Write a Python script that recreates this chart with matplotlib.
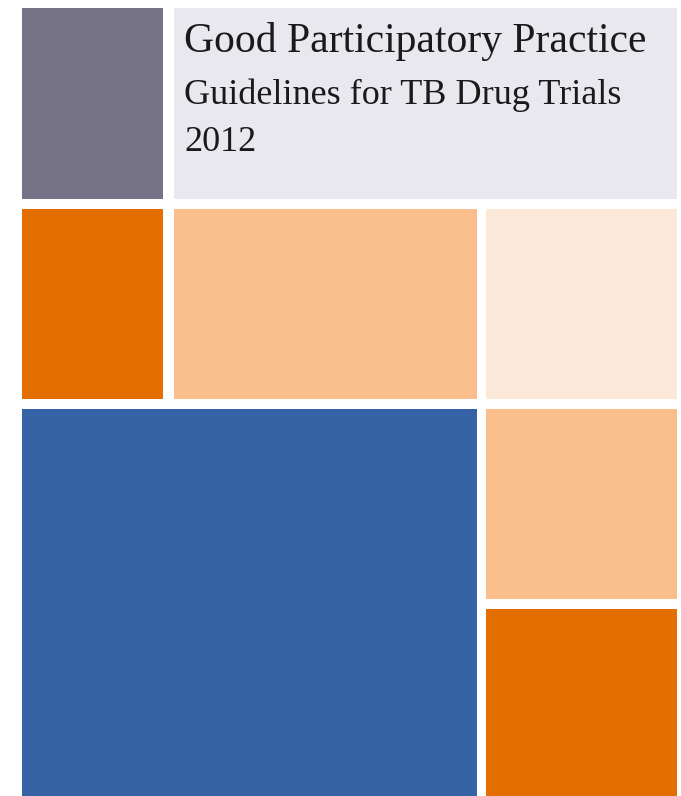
import matplotlib
matplotlib.use("Agg")
import matplotlib.pyplot as plt

# Cover blocks: left, top, right, bottom (pixel grid of the cover)
block_names = ["gray", "header", "orange_l", "peach_top", "pale", "blue", "peach_r", "orange_r"]
block_left = [22, 174, 22, 174, 486, 22, 486, 486]
block_top = [8, 8, 209, 209, 209, 409, 409, 609]
block_right = [163, 677, 163, 477, 677, 477, 677, 677]
block_bottom = [199, 199, 399, 399, 399, 796, 599, 796]
block_colors = ["#767387", "#E8E8EE", "#E46F00", "#FABE8C", "#FDE9D9",
                "#3563A6", "#FABE8C", "#E46F00"]

title_lines = ["Good Participatory Practice", "Guidelines for TB Drug Trials", "2012"]
title_baselines = [52, 104, 151]
title_sizes = [30, 26, 26]

W, H = 681, 796
fig = plt.figure(figsize=(W / 100, H / 100), dpi=100)
ax = fig.add_axes([0, 0, 1, 1])
ax.set_xlim(0, W)
ax.set_ylim(H, 0)
ax.axis("off")

widths = [r - l for l, r in zip(block_left, block_right)]
heights = [b - t for t, b in zip(block_top, block_bottom)]
ax.bar(block_left, heights, width=widths, bottom=block_top, align="edge",
       color=block_colors, linewidth=0)

for line, base, size in zip(title_lines, title_baselines, title_sizes):
    ax.text(184, base, line, fontsize=size, family="Liberation Serif",
            color="#1a1a1a", va="baseline", ha="left")

fig.savefig("out.png", dpi=100)
